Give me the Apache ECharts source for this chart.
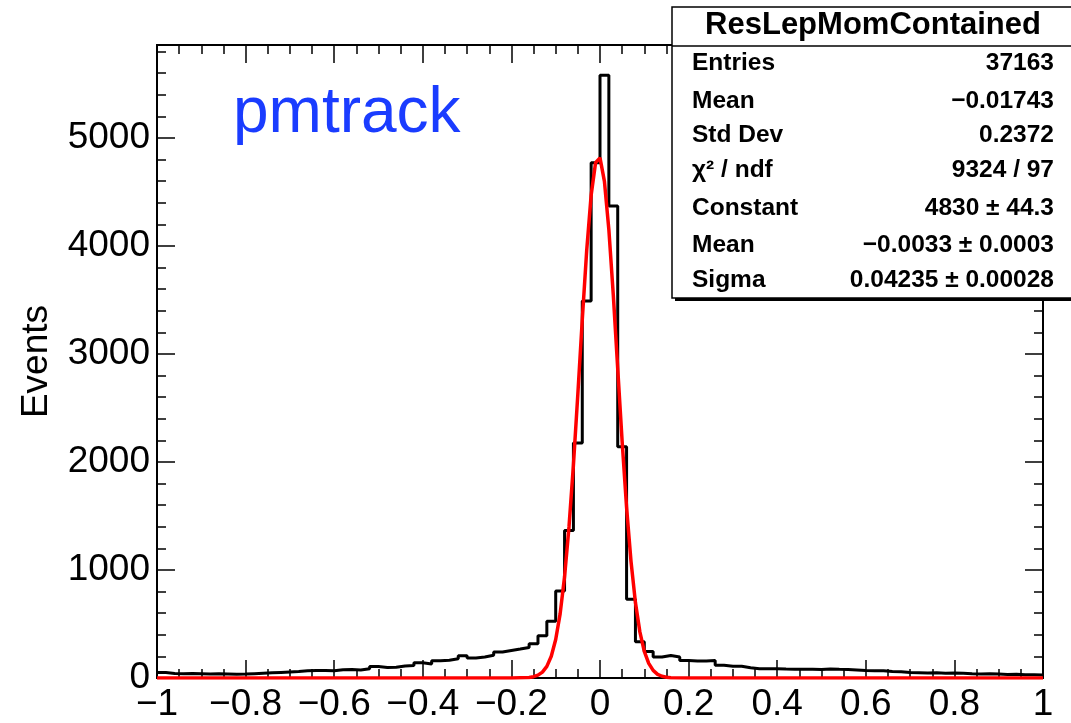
<!DOCTYPE html>
<html>
<head>
<meta charset="utf-8">
<script src="https://cdn.jsdelivr.net/npm/echarts@6/dist/echarts.min.js"></script>
<style>
html,body{margin:0;padding:0;background:#fff;}
#chart{width:1071px;height:723px;}
</style>
</head>
<body>
<div id="chart"></div>
<script>
// ---- data ----
const xMin = -1, xMax = 1, binWidth = 0.02;
const counts = [
  50, 42, 40, 42, 40, 38, 40, 38, 34, 36,
  40, 44, 48, 52, 56, 60, 66, 70, 70, 68,
  76, 78, 74, 86, 106, 98, 100, 112, 116, 142,
  130, 160, 164, 178, 205, 185, 195, 210, 240, 255,
  268, 282, 316, 392, 525, 806, 1365, 2175, 3490, 4770,
  5580, 4370, 2140, 730, 335, 245, 194, 209, 194, 163,
  157, 157, 163, 117, 108, 108, 95, 86, 86, 85,
  83, 82, 80, 82, 78, 84, 80, 78, 74, 70,
  68, 66, 60, 58, 50, 48, 46, 48, 44, 46,
  44, 40, 38, 40, 36, 32, 34, 30, 30, 28
];
const fitX = [-1, -0.2, -0.16, -0.15, -0.14, -0.13, -0.12, -0.11, -0.10, -0.09, -0.08, -0.07, -0.06, -0.05, -0.04, -0.03, -0.02, -0.01, 0,
  0.01, 0.02, 0.03, 0.04, 0.05, 0.06, 0.07, 0.08, 0.09, 0.10, 0.11, 0.12, 0.13, 0.14, 0.15, 0.16, 0.2, 1];
const fitY = [0, 0.2, 5, 12, 26, 55, 108, 202, 356, 594, 937, 1398, 1971, 2629, 3318, 3959, 4469, 4770, 4815,
  4598, 4151, 3546, 2864, 2188, 1580, 1080, 698, 427, 247, 135, 70, 34, 16, 7, 3, 0.1, 0];
const yMax = 5860;
const yTicks = [0, 1000, 2000, 3000, 4000, 5000];
const statsTitle = 'ResLepMomContained';
const statsNames = ['Entries', 'Mean', 'Std Dev', 'χ² / ndf', 'Constant', 'Mean', 'Sigma'];
const statsValues = ['37163', '\u22120.01743', '0.2372', '9324 / 97', '4830 \u00b1 44.3', '\u22120.0033 \u00b1 0.0003', '0.04235 \u00b1 0.00028'];
const labelText = 'pmtrack';
const yTitle = 'Events';

// ---- build ----
const histData = counts.map((v, i) => [+(xMin + i * binWidth).toFixed(2), v]);
histData.push([xMax, counts[counts.length - 1]]);
const fitData = fitX.map((x, i) => [x, fitY[i]]);

const FONT = 'Liberation Sans, Arial, Helvetica, sans-serif';
const fmtX = v => {
  const r = Math.round(v * 10) / 10;
  return String(r).replace('-', '\u2212');
};

const chart = echarts.init(document.getElementById('chart'), null, {renderer: 'canvas'});

const baseX = {
  type: 'value', min: xMin, max: xMax, interval: 0.2,
  axisLine: {show: true, onZero: false, lineStyle: {color: '#000', width: 2}},
  axisTick: {show: true, inside: true, length: 18, lineStyle: {color: '#000', width: 1.5}},
  minorTick: {show: true, splitNumber: 4, length: 9, lineStyle: {color: '#000', width: 1.5}},
  splitLine: {show: false}, minorSplitLine: {show: false}
};
const baseY = {
  type: 'value', min: 0, max: yMax,
  axisLine: {show: true, onZero: false, lineStyle: {color: '#000', width: 2}},
  splitLine: {show: false}
};

const statsGraphics = [];
const bx = 672, by = 7, bw = 405, bh = 291;
statsGraphics.push({type: 'rect', shape: {x: bx + 3, y: by + 3, width: bw, height: bh}, style: {fill: '#000'}, z: 100});
statsGraphics.push({type: 'rect', shape: {x: bx, y: by, width: bw, height: bh}, style: {fill: '#fff', stroke: '#000', lineWidth: 1.5}, z: 101});
statsGraphics.push({type: 'line', shape: {x1: bx, y1: 46, x2: bx + bw, y2: 46}, style: {stroke: '#000', lineWidth: 1.5}, z: 102});
statsGraphics.push({type: 'text', x: 873, y: 25, style: {text: statsTitle, font: 'bold 31px ' + FONT, fill: '#000', textAlign: 'center', textVerticalAlign: 'middle'}, z: 103});
const rowY = [63, 101, 135, 170, 208, 245, 280];
statsNames.forEach((n, i) => {
  statsGraphics.push({type: 'text', x: 692, y: rowY[i], style: {text: n, font: 'bold 24.5px ' + FONT, fill: '#000', textAlign: 'left', textVerticalAlign: 'middle'}, z: 103});
  statsGraphics.push({type: 'text', x: 1054, y: rowY[i], style: {text: statsValues[i], font: 'bold 24.5px ' + FONT, fill: '#000', textAlign: 'right', textVerticalAlign: 'middle'}, z: 103});
});

chart.setOption({
  animation: false,
  backgroundColor: '#fff',
  grid: {left: 157, right: 28, top: 45, bottom: 42, show: false},
  xAxis: [
    Object.assign({}, baseX, {
      position: 'bottom',
      axisLabel: {show: true, showMinLabel: true, showMaxLabel: true, margin: 8, color: '#000', fontSize: 37, fontFamily: FONT, formatter: fmtX}
    }),
    Object.assign({}, baseX, {position: 'top', axisLabel: {show: false}})
  ],
  yAxis: [
    Object.assign({}, baseY, {
      position: 'left', interval: 1000,
      axisTick: {show: true, inside: true, length: 18, lineStyle: {color: '#000', width: 1.5}},
      axisLabel: {show: true, margin: 7, color: '#000', fontSize: 37, fontFamily: FONT, showMaxLabel: false,
        formatter: v => (yTicks.indexOf(v) >= 0 ? String(v) : '')},
      name: yTitle, nameLocation: 'middle', nameGap: 102, nameRotate: 90,
      nameTextStyle: {color: '#000', fontSize: 37, fontFamily: FONT}
    }),
    Object.assign({}, baseY, {
      position: 'left', interval: 200,
      axisTick: {show: true, inside: true, length: 9, lineStyle: {color: '#000', width: 1.5}},
      axisLabel: {show: false}
    }),
    Object.assign({}, baseY, {
      position: 'right', interval: 1000,
      axisTick: {show: true, inside: true, length: 18, lineStyle: {color: '#000', width: 1.5}},
      axisLabel: {show: false}
    }),
    Object.assign({}, baseY, {
      position: 'right', interval: 200,
      axisTick: {show: true, inside: true, length: 9, lineStyle: {color: '#000', width: 1.5}},
      axisLabel: {show: false}
    })
  ],
  series: [
    {
      type: 'line', xAxisIndex: 0, yAxisIndex: 0, data: histData, step: 'end',
      symbol: 'none', lineStyle: {color: '#000', width: 3}, z: 2
    },
    {
      type: 'line', xAxisIndex: 0, yAxisIndex: 0, data: fitData, smooth: false,
      symbol: 'none', lineStyle: {color: '#ff0000', width: 3.5}, z: 3
    }
  ],
  graphic: [
    {type: 'text', left: 233, top: 82, style: {text: labelText, font: '64px ' + FONT, fill: '#1a3cff'}, z: 50}
  ].concat(statsGraphics)
});
</script>
</body>
</html>
